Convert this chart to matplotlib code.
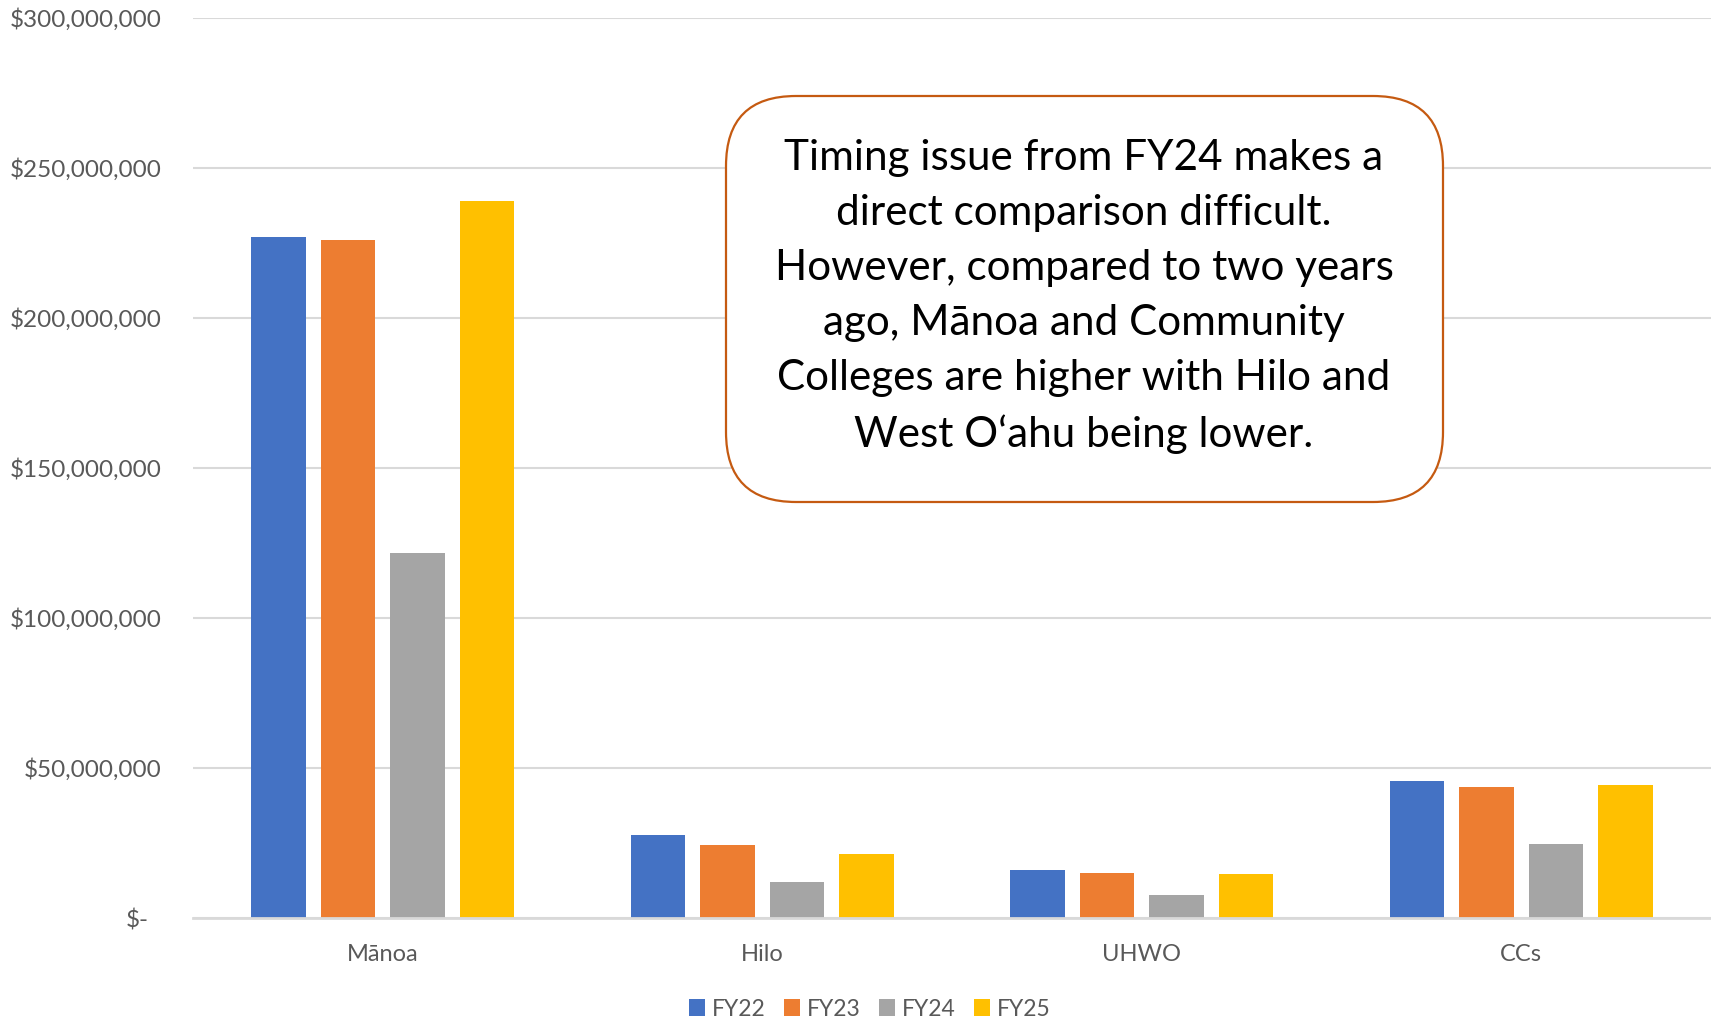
import matplotlib
matplotlib.use("Agg")
import matplotlib.pyplot as plt
import numpy as np
from matplotlib.patches import FancyBboxPatch, Patch
from matplotlib.ticker import FuncFormatter, MultipleLocator
from matplotlib.transforms import ScaledTranslation

# --- data ------------------------------------------------------------------
campuses = ["Mānoa", "Hilo", "UHWO", "CCs"]
years = ["FY22", "FY23", "FY24", "FY25"]
fy22 = [227.1e6, 27.8e6, 15.9e6, 45.6e6]
fy23 = [226.1e6, 24.3e6, 14.9e6, 43.6e6]
fy24 = [121.8e6, 11.9e6, 7.8e6, 24.7e6]
fy25 = [239.1e6, 21.3e6, 14.6e6, 44.5e6]

note = ("Timing issue from FY24 makes a\n"
        "direct comparison difficult.\n"
        "However, compared to two years\n"
        "ago, Mānoa and Community\n"
        "Colleges are higher with Hilo and\n"
        "West O\u2018ahu being lower.")

# --- style -----------------------------------------------------------------
COLORS = ["#4472C4", "#ED7D31", "#A5A5A5", "#FFC000"]
GRID = "#D9D9D9"
LABEL = "#595959"
BOX_EDGE = "#C55A11"
FONT = ["Lato", "DejaVu Sans"]

plt.rcParams["font.family"] = FONT

W, H = 1711, 1019
fig = plt.figure(figsize=(W / 100, H / 100), dpi=100)
fig.patch.set_facecolor("white")

ax = fig.add_axes([193 / W, (H - 918) / H, 1 - 193 / W, 900 / H])

x = np.arange(len(campuses))
pitch, bw = 0.1834, 0.144
for i, (vals, c) in enumerate(zip([fy22, fy23, fy24, fy25], COLORS)):
    ax.bar(x + (i - 1.5) * pitch, vals, width=bw, color=c, zorder=3)

ax.set_xlim(-0.5, len(campuses) - 0.5)
ax.set_ylim(0, 300e6)
ax.yaxis.set_major_locator(MultipleLocator(50e6))
ax.yaxis.set_major_formatter(
    FuncFormatter(lambda v, p: "$-" if v == 0 else f"${v:,.0f}"))
ax.set_xticks(x)
ax.set_xticklabels(campuses)

ax.grid(axis="y", color=GRID, linewidth=1.5, zorder=0)
for s in ["left", "right", "top"]:
    ax.spines[s].set_visible(False)
ax.spines["bottom"].set_color(GRID)
ax.spines["bottom"].set_linewidth(2)
ax.spines["bottom"].set_zorder(4)

ax.tick_params(axis="y", length=0, pad=22.5, labelsize=17.5, labelcolor=LABEL)
ax.tick_params(axis="x", length=0, pad=19, labelsize=17, labelcolor=LABEL)

# accounting-format dash sits a little left of the digits
fig.canvas.draw()
for lab in ax.get_yticklabels():
    if lab.get_text() == "$-":
        lab.set_transform(lab.get_transform() + ScaledTranslation(-0.13, 0, fig.dpi_scale_trans))

# --- legend ----------------------------------------------------------------
handles = [Patch(facecolor=c, edgecolor="none", label=y) for y, c in zip(years, COLORS)]
fig.legend(handles=handles, loc="center", bbox_to_anchor=(870 / W, (H - 1009) / H),
           ncol=4, frameon=False, fontsize=16.5, labelcolor=LABEL,
           handlelength=0.7, handleheight=0.7, handletextpad=0.3, columnspacing=0.8)

# --- annotation box --------------------------------------------------------
box = FancyBboxPatch((7.26, (H - 502) / 100), 7.17, 4.06,
                     boxstyle="round,pad=0,rounding_size=0.7",
                     transform=fig.dpi_scale_trans, facecolor="white",
                     edgecolor=BOX_EDGE, linewidth=1.6, zorder=5)
fig.patches.append(box)
fig.text(1084 / W, (H - 296.5) / H, note, ha="center", va="center",
         multialignment="center", fontsize=30.4, color="black",
         linespacing=1.55, zorder=6)

fig.savefig("out.png", dpi=100, facecolor="white")
